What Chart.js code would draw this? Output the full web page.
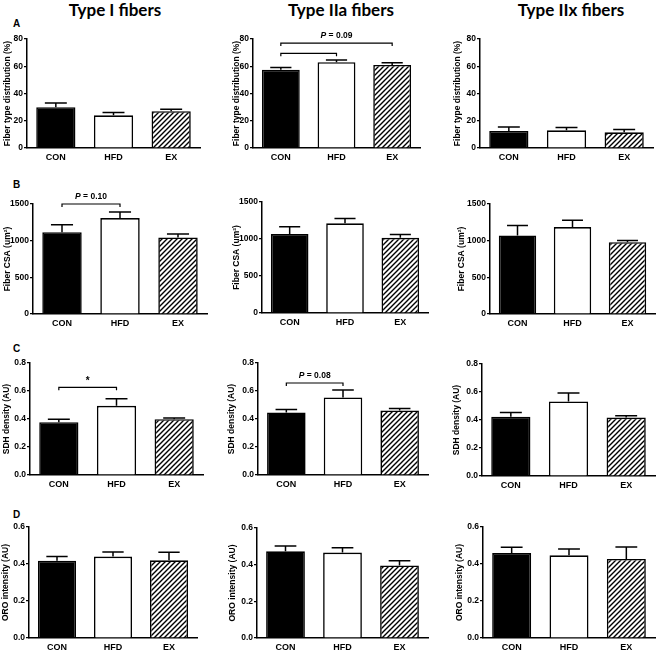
<!DOCTYPE html>
<html>
<head>
<meta charset="utf-8">
<script src="https://cdn.jsdelivr.net/npm/chart.js@4.4.0/dist/chart.umd.min.js"></script>
<style>
body{margin:0;background:#fff;overflow:hidden;width:657px;height:650px;position:relative;font-family:"Liberation Sans",Arial,sans-serif}
.ttl{position:absolute;top:0;line-height:20px;font-family:Lato,"Open Sans",sans-serif;font-weight:bold;font-size:17px;transform:translateX(-50%);white-space:nowrap;color:#000}
.let{position:absolute;font-weight:bold;font-size:10px;line-height:10px;color:#000}
canvas{position:absolute}
</style>
</head>
<body>
<script>
const groups = ["CON", "HFD", "EX"];
const fiberTypes = ["Type I fibers", "Type IIa fibers", "Type IIx fibers"];
const panelLetters = ["A", "B", "C", "D"];
const yTitles = ["Fiber type distribution (%)", "Fiber CSA (um\u00B2)", "SDH density (AU)", "ORO intensity (AU)"];
const yMax = [80, 1500, 0.8, 0.6];
const yStep = [20, 500, 0.2, 0.2];
const yDecimals = [0, 0, 1, 1];

// bar heights per fiber type [I, IIa, IIx], each [CON, HFD, EX]
const distMean = [[30, 24, 27], [57.5, 63, 61], [12.5, 13, 11.5]];
const csaMean  = [[1115, 1308, 1044], [1066, 1212, 1016], [1071, 1185, 980]];
const sdhMean  = [[0.377, 0.494, 0.399], [0.447, 0.554, 0.461], [0.424, 0.532, 0.417]];
const oroMean  = [[0.418, 0.44, 0.42], [0.473, 0.466, 0.396], [0.459, 0.447, 0.427]];
// top of the error bar (mean + SEM)
const distTop = [[33, 26, 28.5], [59, 64.5, 62.5], [15.5, 15, 13.5]];
const csaTop  = [[1217, 1390, 1090], [1164, 1276, 1061], [1208, 1277, 1003]];
const sdhTop  = [[0.399, 0.544, 0.408], [0.468, 0.607, 0.475], [0.453, 0.592, 0.431]];
const oroTop  = [[0.441, 0.465, 0.463], [0.502, 0.492, 0.421], [0.49, 0.481, 0.492]];

const means = [distMean, csaMean, sdhMean, oroMean];
const tops = [distTop, csaTop, sdhTop, oroTop];

// significance brackets
const brackets = [
  {row: 0, col: 1, from: 0, to: 1, y: 69.5, label: ""},
  {row: 0, col: 1, from: 0, to: 2, y: 77, label: "P = 0.09"},
  {row: 1, col: 0, from: 0, to: 1, y: 1500, label: "P = 0.10"},
  {row: 2, col: 0, from: 0, to: 1, y: 0.626, label: "*"},
  {row: 2, col: 1, from: 0, to: 1, y: 0.657, label: "P = 0.08"}
];

// where each panel sits on the page: y axis x, right end, top/bottom of plot, y title centre
const layout = [
  [{ax: 27, rx: 200, ty: 39, by: 148, tx: 7}, {ax: 253, rx: 420, ty: 39, by: 148, tx: 236}, {ax: 480, rx: 653, ty: 39, by: 148, tx: 457}],
  [{ax: 33, rx: 207, ty: 204, by: 314, tx: 7}, {ax: 262, rx: 428, ty: 202, by: 313, tx: 236}, {ax: 490, rx: 655, ty: 204, by: 314, tx: 461}],
  [{ax: 30, rx: 203, ty: 363, by: 475, tx: 6}, {ax: 258, rx: 428, ty: 363, by: 475, tx: 231}, {ax: 482, rx: 655, ty: 364, by: 476, tx: 456}],
  [{ax: 29, rx: 197, ty: 527, by: 638, tx: 5}, {ax: 257, rx: 428, ty: 528, by: 638, tx: 232}, {ax: 483, rx: 655, ty: 527, by: 638, tx: 459}]
];
const titleX = [115, 341, 571];
const letterY = [19, 180, 344, 510];

const FONT = '"Liberation Sans", Arial, sans-serif';
Chart.defaults.font.family = FONT;
Chart.defaults.font.weight = 'bold';
Chart.defaults.font.size = 8;
Chart.defaults.color = '#000';

function hatch() {             // diagonal "////" fill for EX
  const c = document.createElement('canvas');
  c.width = c.height = 5;
  const g = c.getContext('2d');
  g.fillStyle = '#fff';
  g.fillRect(0, 0, 5, 5);
  g.strokeStyle = '#000';
  g.lineWidth = 1.4;
  g.beginPath();
  g.moveTo(-1, 6); g.lineTo(6, -1);
  g.moveTo(-1, 1); g.lineTo(1, -1);
  g.moveTo(4, 6); g.lineTo(6, 4);
  g.stroke();
  return g.createPattern(c, 'repeat');
}
const stripes = hatch();

fiberTypes.forEach((t, i) => {
  const d = document.createElement('div');
  d.className = 'ttl';
  d.style.left = titleX[i] + 'px';
  d.textContent = t;
  document.body.appendChild(d);
});
panelLetters.forEach((t, i) => {
  const d = document.createElement('div');
  d.className = 'let';
  d.style.left = '13px';
  d.style.top = letterY[i] + 'px';
  d.textContent = t;
  document.body.appendChild(d);
});

function makePanel(row, col) {
  const L = layout[row][col];
  const padTop = 16, xH = 15;
  const left = Math.round(L.tx - 4);
  const yw = L.ax - left;
  const top = L.ty - padTop;
  const w = L.rx - left + 2;
  const h = L.by + xH - top;
  const cv = document.createElement('canvas');
  cv.width = w; cv.height = h;
  cv.style.left = left + 'px'; cv.style.top = top + 'px';
  cv.style.width = w + 'px'; cv.style.height = h + 'px';
  document.body.appendChild(cv);

  const errTops = tops[row][col];
  const myBrackets = brackets.filter(b => b.row == row && b.col == col);

  const extras = {
    id: 'extras',
    afterDatasetsDraw(chart) {
      const ctx = chart.ctx, meta = chart.getDatasetMeta(0), ys = chart.scales.y;
      ctx.save();
      ctx.strokeStyle = '#000';
      ctx.lineWidth = 1.5;
      // error bars (upper half only)
      errTops.forEach((v, i) => {
        const bar = meta.data[i];
        const yt = ys.getPixelForValue(v);
        const cw = bar.width * 0.28;
        ctx.beginPath();
        ctx.moveTo(bar.x, bar.y);
        ctx.lineTo(bar.x, yt);
        ctx.moveTo(bar.x - cw, yt);
        ctx.lineTo(bar.x + cw, yt);
        ctx.stroke();
      });
      // brackets
      ctx.lineWidth = 1.2;
      myBrackets.forEach(b => {
        const yy = ys.getPixelForValue(b.y);
        const x1 = meta.data[b.from].x, x2 = meta.data[b.to].x;
        ctx.beginPath();
        ctx.moveTo(x1, yy + 3); ctx.lineTo(x1, yy); ctx.lineTo(x2, yy); ctx.lineTo(x2, yy + 3);
        ctx.stroke();
        const cx = (x1 + x2) / 2;
        ctx.fillStyle = '#000';
        ctx.textBaseline = 'middle';
        if (b.label == '*') {
          ctx.font = 'bold 10px ' + FONT;
          ctx.textAlign = 'center';
          ctx.fillText('*', cx, yy - 6);
        } else if (b.label) {
          const rest = b.label.slice(1);
          ctx.font = 'italic bold 8.5px ' + FONT;
          const wP = ctx.measureText('P').width;
          ctx.font = 'bold 8.5px ' + FONT;
          const wR = ctx.measureText(rest).width;
          const x0 = cx - (wP + wR) / 2;
          ctx.textAlign = 'left';
          ctx.font = 'italic bold 8.5px ' + FONT;
          ctx.fillText('P', x0, yy - 7);
          ctx.font = 'bold 8.5px ' + FONT;
          ctx.fillText(rest, x0 + wP, yy - 7);
        }
      });
      ctx.restore();
    }
  };

  new Chart(cv, {
    type: 'bar',
    data: {
      labels: groups,
      datasets: [{
        data: means[row][col],
        backgroundColor: ['#000', '#fff', stripes],
        borderColor: '#000',
        borderWidth: 1.6,
        barPercentage: 0.68,
        categoryPercentage: 1
      }]
    },
    options: {
      responsive: false,
      animation: false,
      devicePixelRatio: 1,
      layout: {padding: {top: padTop, right: 2, left: 0, bottom: 0}},
      plugins: {legend: {display: false}, tooltip: {enabled: false}},
      scales: {
        x: {
          grid: {display: true, drawOnChartArea: false, drawTicks: false},
          border: {color: '#000', width: 1.5},
          ticks: {padding: 4, font: {size: 9, weight: 'bold'}},
          afterFit: s => { s.height = xH; }
        },
        y: {
          min: 0, max: yMax[row],
          grid: {display: true, drawOnChartArea: false, color: '#000', lineWidth: 1.2, tickLength: 3},
          border: {color: '#000', width: 1.5},
          ticks: {stepSize: yStep[row], padding: 1, font: {size: 8.5, weight: 'bold'},
                  callback: v => Number(v).toFixed(yDecimals[row])},
          title: {display: true, text: yTitles[row], padding: 0, font: {size: 8.5, weight: 'bold', lineHeight: 1.05}},
          afterFit: s => { s.width = yw; }
        }
      }
    },
    plugins: [extras]
  });
}

for (let r = 0; r < 4; r++) {
  for (let c = 0; c < 3; c++) makePanel(r, c);
}
</script>
</body>
</html>
